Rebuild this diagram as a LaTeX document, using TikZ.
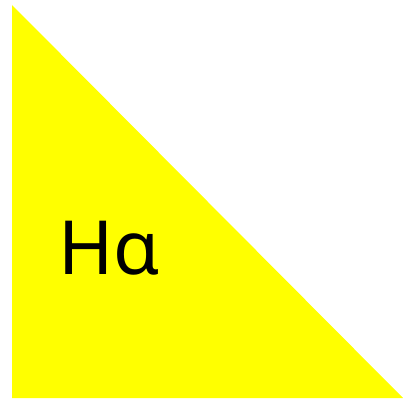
\documentclass[tikz,border=0pt]{standalone}
\usepackage{fontspec}
\setmainfont{Noto Sans}
\definecolor{pureyellow}{RGB}{255,255,0}
\begin{document}
\begin{tikzpicture}[x=1bp,y=1bp]
\useasboundingbox (0,0) rectangle (403,400);
\fill[pureyellow] (12,395) coordinate (tl) -- (12,2) coordinate (bl) -- (403,2) coordinate (br) -- cycle;
\node[anchor=base west,inner sep=0pt,font=\fontsize{75}{80}\selectfont] (lbl) at (58,126) {Hα};
\end{tikzpicture}
\end{document}
